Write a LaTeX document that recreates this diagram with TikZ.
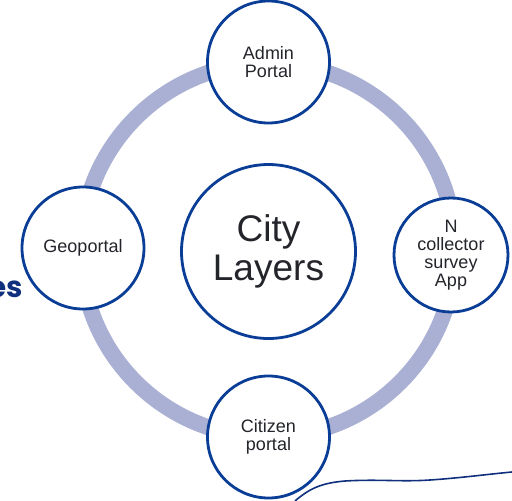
\documentclass[tikz,border=0pt]{standalone}
\usepackage{fontspec}
\setmainfont{Liberation Sans}
\newfontfamily\esfont{Poppins}
\definecolor{ringc}{HTML}{A9B0D3}
\definecolor{edgec}{HTML}{0A3D96}
\definecolor{txtc}{HTML}{23252B}
\definecolor{navyc}{HTML}{10307E}
\begin{document}
\begin{tikzpicture}[x=0.75pt,y=-0.75pt,
  portal/.style={circle,draw=edgec,line width=2.1pt,fill=white,inner sep=0pt,
    minimum size=91.5pt,align=center,text=txtc,
    font=\fontsize{13.5pt}{13.6pt}\selectfont},
  hub/.style={portal,minimum size=130.5pt,font=\fontsize{27.8pt}{29pt}\selectfont},
  band/.style={draw=ringc,line width=12pt}]
\useasboundingbox (0,0) rectangle (512,501);
\coordinate (rc) at (268,250);
\draw[band] (rc) circle[radius=140.25pt];
\node[portal] (admin) at (268.5,62) {Admin\\Portal};
\node[portal] (citizen) at (268.5,437) {Citizen\\portal};
\node[portal] (geo) at (83,248) {Geoportal};
\node[portal,minimum size=85.5pt] (ncol) at (451,255) {N\\collector\\survey\\App};
\node[hub] (city) at (268.5,251.5) {City\\Layers};
\node[anchor=base east,inner sep=0pt,text=navyc,font=\esfont\bfseries\fontsize{22pt}{22pt}\selectfont] (es) at (23,297) {es};
\draw[navyc,line width=1.2pt] (295,501) .. controls (310,488) and (322,483) .. (345,481)
  .. controls (380,479) and (400,482) .. (430,480) .. controls (460,478) and (490,474) .. (512,472);
\end{tikzpicture}
\end{document}
